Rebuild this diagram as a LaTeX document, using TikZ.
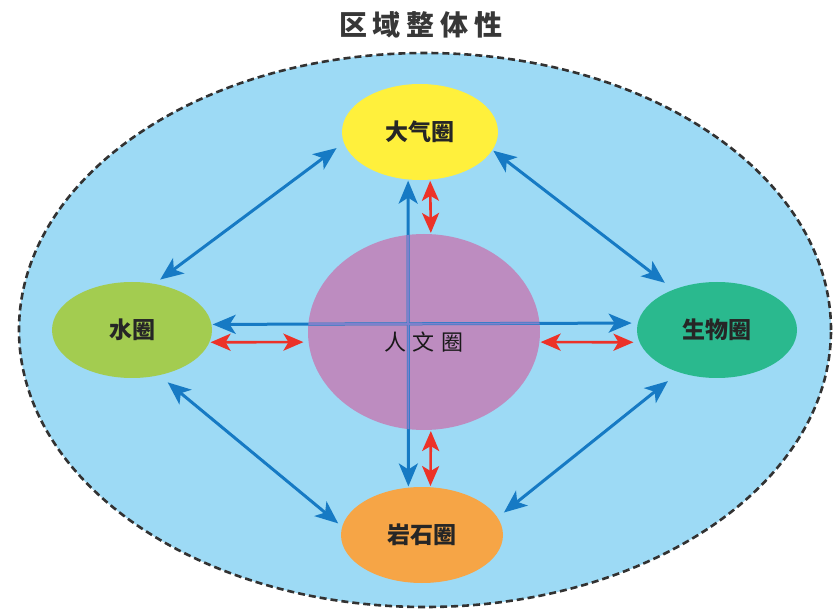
\documentclass[tikz,border=0pt]{standalone}
\usepackage{fontspec}
\newfontfamily\cjk{Noto Sans CJK SC}
\usetikzlibrary{shapes.geometric,arrows.meta}
\definecolor{bgblue}{RGB}{157,218,245}
\definecolor{atmyellow}{RGB}{255,240,60}
\definecolor{watergreen}{RGB}{163,204,80}
\definecolor{bioteal}{RGB}{42,185,142}
\definecolor{rockorange}{RGB}{246,165,70}
\definecolor{humpurple}{RGB}{189,140,192}
\definecolor{arrowblue}{RGB}{22,122,196}
\definecolor{arrowred}{RGB}{236,50,40}
\definecolor{innerline}{RGB}{125,128,205}
\definecolor{dashgray}{RGB}{50,50,50}
\definecolor{titlegray}{RGB}{55,55,55}
\tikzset{
  sphere/.style={ellipse, inner sep=0pt, text=black!85,
    font=\cjk\bfseries\fontsize{23}{25}\selectfont},
  bluearrow/.style={draw=arrowblue, line width=3pt,
    {Stealth[length=23pt,width=19pt,inset=6pt]}-{Stealth[length=23pt,width=19pt,inset=6pt]}},
  redarrow/.style={draw=arrowred, line width=2.6pt,
    {Stealth[length=20pt,width=17pt,inset=5pt]}-{Stealth[length=20pt,width=17pt,inset=5pt]}},
  regionbox/.style={ellipse, draw=dashgray, line width=2.6pt,
    dash pattern=on 7pt off 4pt, fill=bgblue, inner sep=0pt},
}
\begin{document}
\begin{tikzpicture}[x=1pt,y=-1pt]
\useasboundingbox (0,0) rectangle (833,612);
\fill[white] (0,0) rectangle (833,612);
\node[font=\cjk\bfseries\fontsize{28}{30}\selectfont, text=titlegray] (title) at (421,25)
  {区\hspace{6pt}域\hspace{6pt}整\hspace{6pt}体\hspace{6pt}性};
\node[regionbox, minimum width=812pt, minimum height=554pt] (region) at (425,330) {};
\node[sphere, fill=atmyellow, minimum width=156pt, minimum height=96pt] (atm) at (420,132) {大气圈};
\node[sphere, fill=watergreen, minimum width=160pt, minimum height=96pt] (water) at (132,330) {水圈};
\node[sphere, fill=bioteal, minimum width=160pt, minimum height=96pt] (bio) at (717,330) {生物圈};
\node[sphere, fill=rockorange, minimum width=162pt, minimum height=96pt] (rock) at (422,535) {岩石圈};
\node[ellipse, fill=humpurple, inner sep=0pt, minimum width=232pt, minimum height=196pt] (hum) at (424,332) {};
% blue lines through the centre
\draw[bluearrow, shorten <=1pt, shorten >=1pt] (atm.-104) -- (rock.106);
\draw[bluearrow, shorten <=1pt, shorten >=6pt] (water.4.2) -- (bio.175.7);
\begin{scope}
  \clip (hum.center) ellipse [x radius=116, y radius=98];
  \draw[innerline, line width=2pt] (atm.-104) -- (rock.106);
  \draw[innerline, line width=2pt] (water.4.2) -- (bio.175.7);
\end{scope}
\node[font=\cjk\fontsize{22}{24}\selectfont, text=black!90] (humlabel) at (424,342)
  {人\hspace{7pt}文\hspace{7pt}圈};
% red arrows
\draw[redarrow, shorten <=1pt, shorten >=1pt] (atm.-78.2) -- (hum.86.5);
\draw[redarrow, shorten <=1pt, shorten >=1pt] (hum.-86.5) -- (rock.80.5);
\draw[redarrow, shorten <=1pt, shorten >=5pt] (water.-9) -- (hum.185.4);
\draw[redarrow, shorten <=1pt, shorten >=6pt] (hum.-5.4) -- (bio.189.2);
% diagonal blue arrows
\draw[bluearrow, shorten <=7pt, shorten >=9pt] (water.64.7) -- (atm.188.6);
\draw[bluearrow, shorten <=1pt, shorten >=11pt] (atm.-14) -- (bio.137.3);
\draw[bluearrow, shorten <=11pt, shorten >=5pt] (water.-59) -- (rock.174.6);
\draw[bluearrow, shorten <=8pt, shorten >=14pt] (rock.13.5) -- (bio.228.3);
\end{tikzpicture}
\end{document}
